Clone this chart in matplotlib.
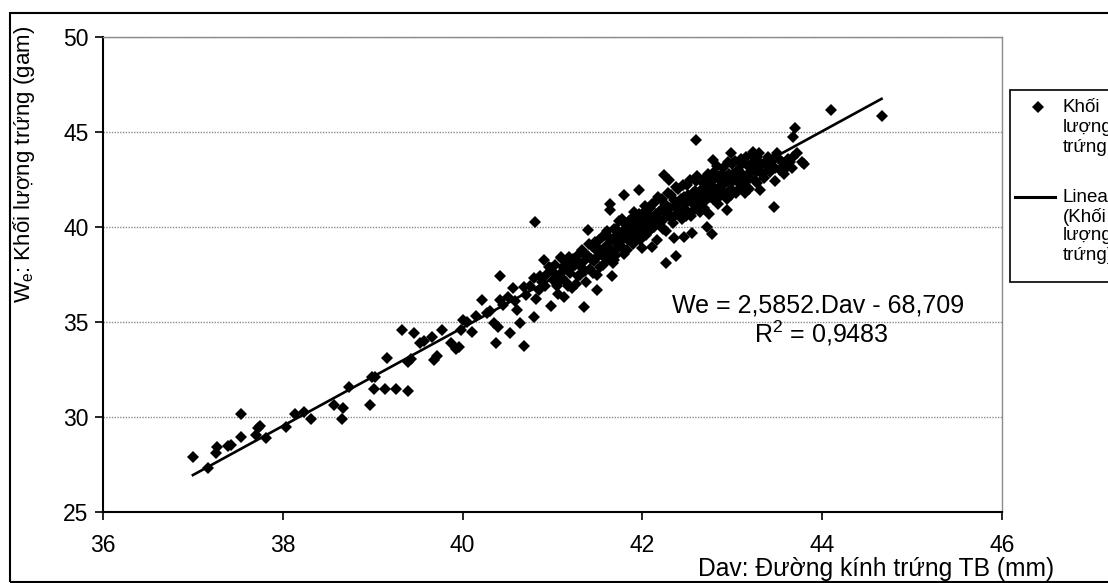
import numpy as np
import matplotlib.pyplot as plt
from matplotlib.lines import Line2D
from matplotlib.patches import Rectangle

plt.rcParams['font.family'] = ['Liberation Sans', 'DejaVu Sans']
plt.rcParams['mathtext.fontset'] = 'custom'
plt.rcParams['mathtext.rm'] = 'Liberation Sans'

# Dav: đường kính trứng TB (mm), We: khối lượng trứng (gam)
dav = [37.00, 37.17, 37.26, 37.27, 37.39, 37.42, 37.54, 37.54, 37.70, 37.72,
       37.75, 37.81, 38.04, 38.14, 38.24, 38.31, 38.57, 38.67, 38.66, 38.74,
       38.99, 39.03, 39.01, 38.97, 39.14, 39.26, 39.39, 39.16, 39.33, 39.46,
       39.39, 39.43, 39.53, 39.57, 39.66, 39.68, 39.71, 39.77, 39.87, 39.96,
       39.93, 39.98, 40.01, 40.11, 40.22, 40.27, 40.35, 40.39, 40.37, 40.42,
       40.42, 40.53, 40.56, 40.61, 40.64, 40.68, 40.68, 40.79, 40.79, 40.80,
       40.90, 40.98, 40.98, 41.09, 41.13, 41.16, 41.35, 41.39, 41.50, 41.64,
       41.64, 41.66, 41.68, 41.80, 41.96, 42.24, 42.30, 42.60, 42.79, 42.98,
       43.23, 43.27, 43.40, 43.50, 43.53, 43.61, 43.77, 43.46, 43.14, 43.31,
       42.94, 42.77, 42.55, 42.46, 42.35, 42.37, 42.26, 42.11, 42.72, 41.09,
       43.70, 43.68, 44.10, 44.66,
       40.05, 40.15, 40.30, 40.45, 40.50, 40.58, 40.70, 40.75, 40.85, 40.88,
       40.93, 41.00, 41.05, 41.10,
       41.02, 41.05, 41.08, 41.12, 41.15, 41.18, 41.20, 41.22, 41.25, 41.28,
       41.30, 41.32, 41.35, 41.37,
       41.40, 41.42, 41.44, 41.46, 41.48, 41.50, 41.52, 41.54, 41.56, 41.58,
       41.60, 41.62, 41.64, 41.66, 41.68, 41.70, 41.72,
       41.74, 41.76, 41.78, 41.80, 41.82, 41.84, 41.86, 41.88, 41.90, 41.92,
       41.94, 41.96, 41.98, 42.00, 42.00,
       42.02, 42.04, 42.06, 42.08, 42.10, 42.12, 42.14, 42.16, 42.18, 42.20,
       42.22, 42.24, 42.26, 42.28, 42.30,
       42.32, 42.34, 42.36, 42.38, 42.40, 42.42, 42.44, 42.46, 42.48, 42.50,
       42.52, 42.54, 42.56, 42.58, 42.60,
       42.62, 42.64, 42.66, 42.68, 42.70, 42.72, 42.74, 42.76, 42.78, 42.80,
       42.82, 42.84, 42.86, 42.88, 42.90,
       42.92, 42.94, 42.96, 42.98, 43.00, 43.02, 43.04, 43.06, 43.08, 43.10,
       43.12, 43.16, 43.18, 43.20, 43.22, 43.26, 43.28,
       43.32, 43.35, 43.38, 43.42, 43.45, 43.48, 43.55, 43.58, 43.62, 43.66,
       43.72, 43.80,
       40.82, 40.86, 40.92, 40.96, 41.03, 41.06, 41.11, 41.14, 41.17, 41.19,
       41.23, 41.26, 41.29, 41.31, 41.33, 41.36, 41.38, 41.41, 41.43, 41.45,
       41.47, 41.49, 41.51, 41.53, 41.55, 41.57, 41.59, 41.61, 41.63, 41.65,
       41.67, 41.69, 41.71, 41.73, 41.75, 41.77, 41.79, 41.81, 41.83, 41.85,
       41.87, 41.89, 41.91, 41.93, 41.95, 41.97, 41.99, 42.01, 42.03, 42.05,
       42.07, 42.09, 42.11, 42.13, 42.15, 42.17, 42.19, 42.21, 42.23, 42.25,
       42.27, 42.29, 42.31, 42.33, 42.35, 42.37, 42.39, 42.41, 42.43, 42.45,
       42.47, 42.49, 42.51, 42.53, 42.55, 42.57, 42.59, 42.61, 42.63, 42.65,
       42.67, 42.69, 42.71, 42.73, 42.75, 42.77, 42.79, 42.81, 42.83, 42.85,
       42.87, 42.89, 42.91, 42.93, 42.95, 42.97, 42.99, 43.01, 43.03, 43.05,
       43.07, 43.09, 43.11, 43.13, 43.15, 43.17, 43.19, 43.21, 43.24, 43.25,
       43.29, 43.30, 43.33, 43.36, 43.40, 43.43, 43.47, 43.52, 43.57, 43.64,
       43.68]
we = [27.91, 27.33, 28.09, 28.40, 28.47, 28.55, 30.16, 28.93, 29.05, 29.40,
      29.55, 28.91, 29.46, 30.16, 30.28, 29.88, 30.63, 30.46, 29.88, 31.60,
      32.12, 32.10, 31.46, 30.62, 31.46, 31.46, 31.39, 33.09, 34.58, 34.44,
      32.91, 33.05, 33.88, 34.00, 34.23, 33.00, 33.20, 34.58, 33.88, 33.70,
      33.60, 34.58, 35.11, 34.49, 36.16, 35.46, 34.93, 34.75, 33.91, 36.16,
      37.44, 34.40, 36.77, 35.63, 34.93, 36.86, 33.74, 35.25, 37.30, 40.28,
      38.26, 37.82, 35.84, 38.35, 36.33, 38.09, 35.80, 39.84, 36.68, 41.20,
      40.90, 37.44, 38.26, 41.68, 41.95, 42.74, 42.50, 44.58, 43.53, 43.88,
      43.96, 43.70, 43.70, 43.88, 43.00, 43.18, 43.44, 41.04, 41.77, 41.95,
      40.89, 39.63, 39.70, 39.49, 39.40, 38.47, 38.12, 38.96, 40.02, 38.44,
      45.19, 44.75, 46.16, 45.84,
      35.00, 35.30, 35.60, 35.90, 36.30, 36.10, 36.40, 36.90, 36.70, 37.10,
      37.50, 37.20, 37.00, 37.60,
      37.60, 36.90, 37.30, 37.90, 37.10, 38.40, 37.60, 36.80, 38.00, 37.40,
      38.60, 37.90, 38.20, 37.10,
      38.50, 37.80, 39.00, 38.20, 38.80, 37.50, 39.30, 38.60, 38.00, 39.60,
      38.90, 38.30, 39.40, 38.70, 39.90, 38.50, 39.20,
      40.30, 39.00, 39.60, 38.60, 40.10, 39.30, 39.80, 40.50, 39.10, 40.00,
      39.50, 40.70, 39.90, 38.90, 40.30,
      40.80, 39.60, 40.20, 41.00, 39.90, 40.50, 41.30, 39.30, 40.80, 40.10,
      41.50, 40.40, 39.80, 41.00, 40.60,
      41.70, 40.20, 41.10, 40.70, 42.00, 41.30, 40.40, 41.60, 40.90, 42.20,
      41.40, 40.60, 41.80, 41.10, 42.40,
      41.50, 40.80, 42.00, 41.30, 42.60, 41.70, 40.70, 42.20, 41.50, 42.90,
      41.90, 41.20, 42.50, 41.80, 43.10,
      42.30, 41.50, 42.80, 42.00, 43.30, 42.50, 41.80, 43.00, 42.30, 43.60,
      42.70, 42.10, 43.20, 42.60, 43.80, 42.90, 42.30,
      43.30, 42.60, 43.50, 42.90, 43.60, 42.40, 43.40, 42.80, 43.60, 43.10,
      43.90, 43.30,
      36.20, 37.40, 36.90, 37.90, 38.00, 36.50, 37.30, 38.20, 36.90, 37.80,
      38.30, 37.00, 38.10, 37.50, 38.80, 37.70, 38.50, 39.10, 38.30, 37.60,
      39.20, 38.40, 38.90, 37.90, 39.50, 38.40, 39.00, 39.80, 38.70, 39.30,
      38.10, 39.50, 39.90, 38.90, 39.60, 40.40, 39.40, 39.90, 38.80, 40.30,
      39.50, 40.00, 40.80, 39.70, 40.20, 39.30, 40.50, 40.00, 41.10, 40.40,
      39.80, 40.60, 41.20, 40.00, 40.70, 41.60, 40.40, 40.90, 39.90, 41.20,
      40.70, 41.80, 41.00, 40.50, 41.40, 42.10, 41.00, 40.70, 41.50, 42.20,
      41.20, 40.60, 41.70, 42.50, 41.30, 40.90, 41.90, 42.70, 41.70, 41.20,
      42.30, 41.00, 42.00, 42.80, 41.60, 42.40, 41.90, 42.60, 43.20, 41.60,
      42.20, 42.80, 41.80, 42.60, 43.40, 42.30, 41.70, 42.80, 43.50, 42.40,
      42.00, 42.90, 43.30, 42.30, 43.70, 42.80, 42.00, 43.10, 43.50, 42.50,
      43.10, 43.90, 42.80, 43.30, 43.00, 43.40, 43.10, 43.60, 43.20, 43.40,
      43.70]

# phương trình hồi quy tuyến tính
slope = 2.5852
intercept = -68.709
eq_text = "We = 2,5852.Dav - 68,709"
r2_text = "R$^2$ = 0,9483"

fig = plt.figure(figsize=(11.08, 5.83), dpi=100)
W, H = 1108, 583
ax = fig.add_axes([103 / W, 1 - 512 / H, 899 / W, 475 / H])

ax.plot(dav, we, linestyle='none', marker='D', markersize=6.2,
        color='black', markeredgewidth=0)
xl = np.array([min(dav), max(dav)])
ax.plot(xl, slope * xl + intercept, color='black', linewidth=1.9)

ax.set_xlim(36, 46)
ax.set_ylim(25, 50)
ax.set_xticks(np.arange(36, 47, 2))
ax.set_yticks(np.arange(25, 51, 5))
ax.yaxis.grid(True, color='#8c8c8c', linestyle=(0, (1, 1)), linewidth=1)
ax.set_axisbelow(True)
ax.tick_params(direction='out', length=5.5, width=1.2, labelsize=16.5, pad=5)
ax.tick_params(axis='x', pad=10)
for s in ['left', 'bottom']:
    ax.spines[s].set_linewidth(1.5)
for s in ['top', 'right']:
    ax.spines[s].set_color('#8c8c8c')
    ax.spines[s].set_linewidth(1)

# nhãn trục
fig.text(24 / W, 1 - 26 / H, r"W$_\mathregular{e}$: Khối lượng trứng (gam)",
         rotation=90, ha='center', va='top', fontsize=16)
fig.text(698 / W, 1 - 576 / H, "Dav: Đường kính trứng TB (mm)",
         ha='left', va='baseline', fontsize=17.7)

# phương trình
fig.text(818 / W, 1 - 312 / H, eq_text, ha='center', va='baseline', fontsize=18)
fig.text(821 / W, 1 - 343 / H, r2_text, ha='center', va='baseline', fontsize=18)

# chú giải (bị cắt ở mép phải như ảnh gốc)
fig.add_artist(Rectangle((1010 / W, 1 - 282 / H), 200 / W, 192 / H,
                         transform=fig.transFigure, fill=True, facecolor='white',
                         edgecolor='black', linewidth=1.2))
fig.add_artist(Line2D([1038 / W], [1 - 107 / H], marker='D', markersize=6.2,
                      color='black', markeredgewidth=0, transform=fig.transFigure))
fig.add_artist(Line2D([1015 / W, 1055 / W], [1 - 197 / H, 1 - 197 / H],
                      color='black', linewidth=2.2, transform=fig.transFigure))
for i, t in enumerate(["Khối", "lượng", "trứng"]):
    fig.text(1063 / W, 1 - (107 + 20 * i) / H, t, ha='left', va='center', fontsize=13.5)
for i, t in enumerate(["Linear", "(Khối", "lượng", "trứng)"]):
    fig.text(1063 / W, 1 - (197 + 19.5 * i) / H, t, ha='left', va='center', fontsize=13.5)

# khung ngoài
fig.add_artist(Rectangle((10 / W, 1 - 582 / H), 1200 / W, 569 / H,
                         transform=fig.transFigure, fill=False,
                         edgecolor='black', linewidth=1.5))

fig.savefig('out.png', dpi=100)
